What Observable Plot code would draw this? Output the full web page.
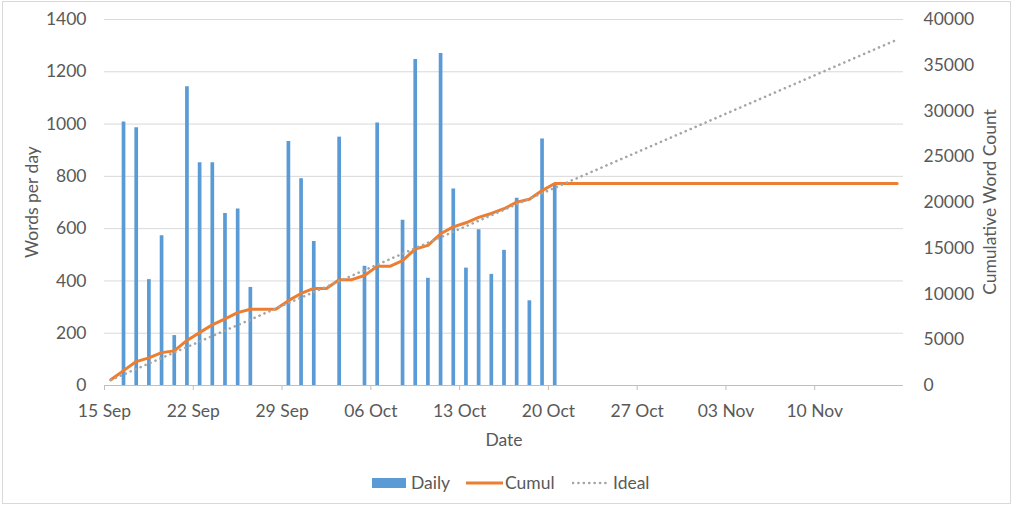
<!DOCTYPE html>
<html><head><meta charset="utf-8">
<script src="https://cdn.jsdelivr.net/npm/d3@7"></script>
<script src="https://cdn.jsdelivr.net/npm/@observablehq/plot@0.6"></script>
<style>
body{margin:0;background:#fff;font-family:Lato,sans-serif;color:#595959}
#wrap{position:relative;width:1019px;height:508px;overflow:hidden;background:#fff}
#frame{position:absolute;left:2px;top:1px;width:1009px;height:503px;border:1px solid #d9d9d9;box-sizing:border-box}
#chart{position:absolute;left:0;top:0}
.ttl{position:absolute;font-size:17.5px;white-space:nowrap;transform:translate(-50%,-50%);line-height:1}
.rot{transform:translate(-50%,-50%) rotate(-90deg)}
.leg{position:absolute;font-size:17.5px;line-height:1;white-space:nowrap}
</style></head>
<body>
<div id="wrap">
  <div id="frame"></div>
  <div id="chart"></div>
  <div class="ttl rot" style="left:32px;top:202px">Words per day</div>
  <div class="ttl rot" style="left:990px;top:202px">Cumulative Word Count</div>
  <div class="ttl" style="left:504px;top:440px">Date</div>
  <div id="legend"></div>
</div>
<script>
// ---- data ----
const dailyDates = ["2015-09-16","2015-09-17","2015-09-18","2015-09-19","2015-09-20","2015-09-21","2015-09-22","2015-09-23","2015-09-24","2015-09-25","2015-09-26",
  "2015-09-29","2015-09-30","2015-10-01","2015-10-03","2015-10-05","2015-10-06","2015-10-08","2015-10-09","2015-10-10","2015-10-11","2015-10-12",
  "2015-10-13","2015-10-14","2015-10-15","2015-10-16","2015-10-17","2015-10-18","2015-10-19","2015-10-20"];
const dailyWords = [1008,986,405,573,191,1143,852,852,658,675,375,
  933,791,551,950,456,1004,632,1247,410,1270,752,
  449,596,425,517,716,324,943,766];

const cumulStart = "2015-09-15";
const cumulWords = [620,1628,2614,3019,3592,3783,4926,5778,6630,7288,7963,8338,8338,8338,
  9271,10062,10613,10613,11563,11563,12019,13023,13023,13655,14902,15312,16582,17334,
  17783,18379,18804,19321,20037,20361,21304,22070,
  22070,22070,22070,22070,22070,22070,22070,22070,22070,22070,22070,22070,22070,22070,
  22070,22070,22070,22070,22070,22070,22070,22070,22070,22070,22070,22070,22070];

const idealDates = ["2015-09-15","2015-11-16"];
const idealWords = [600,37800];

const xTickDates = ["2015-09-15","2015-09-22","2015-09-29","2015-10-06","2015-10-13","2015-10-20","2015-10-27","2015-11-03","2015-11-10"];
const leftTicks = [0,200,400,600,800,1000,1200,1400];
const rightTicks = [0,5000,10000,15000,20000,25000,30000,35000,40000];
const seriesNames = ["Daily","Cumul","Ideal"];
const colors = {Daily:"#5B9BD5", Cumul:"#ED7D31", Ideal:"#A5A5A5"};

// ---- build ----
const parse = d3.utcParse("%Y-%m-%d");
const leftMax = 1400, rightMax = 40000, k = leftMax / rightMax;
const mid = d => d3.utcHour.offset(d, 12);

const daily = dailyDates.map((d, i) => ({date: parse(d), v: dailyWords[i]}));
const cumul = cumulWords.map((v, i) => ({date: d3.utcDay.offset(parse(cumulStart), i), v}));
const ideal = idealDates.map((d, i) => ({date: parse(d), v: idealWords[i]}));

const chart = Plot.plot({
  width: 1019, height: 460,
  marginLeft: 104, marginRight: 116, marginTop: 19, marginBottom: 75,
  style: {fontFamily: "Lato, sans-serif", fontSize: "17.5px", color: "#595959", background: "transparent"},
  x: {type: "utc", domain: [parse("2015-09-15"), parse("2015-11-17")]},
  y: {domain: [0, leftMax]},
  marks: [
    Plot.gridY(leftTicks.filter(t => t > 0), {stroke: "#d9d9d9", strokeOpacity: 1}),
    Plot.ruleX(daily, {x: d => mid(d.date), y1: 0, y2: "v", stroke: colors.Daily, strokeWidth: 3.7}),
    Plot.ruleY([0], {stroke: "#bfbfbf", strokeWidth: 1}),
    Plot.axisX(xTickDates.map(parse), {tickSize: 5, tickPadding: 14, stroke: "#bfbfbf", fill: "#595959", tickFormat: d3.utcFormat("%d %b"), label: null}),
    Plot.axisY(leftTicks, {anchor: "left", tickSize: 0, tickPadding: 18, label: null, fill: "#595959", tickFormat: t => String(t)}),
    Plot.axisY(rightTicks.map(t => t * k), {anchor: "right", tickSize: 0, tickPadding: 20, label: null, fill: "#595959", tickFormat: t => String(Math.round(t / k))}),
    Plot.line(cumul, {x: d => mid(d.date), y: d => d.v * k, stroke: colors.Cumul, strokeWidth: 3, strokeLinejoin: "round"}),
    Plot.line(ideal, {x: d => mid(d.date), y: d => d.v * k, stroke: colors.Ideal, strokeWidth: 2.6, strokeDasharray: "0.1 5.3", strokeLinecap: "round"})
  ]
});
document.getElementById("chart").appendChild(chart);

// ---- legend ----
const leg = document.getElementById("legend");
const items = [
  {name: seriesNames[0], sw: `<svg width="34" height="10" style="position:absolute;left:372px;top:478px"><rect width="34" height="10" fill="${colors.Daily}"/></svg>`, tx: 411},
  {name: seriesNames[1], sw: `<svg width="37" height="6" style="position:absolute;left:466px;top:480px"><line x1="0" x2="37" y1="3" y2="3" stroke="${colors.Cumul}" stroke-width="3"/></svg>`, tx: 505},
  {name: seriesNames[2], sw: `<svg width="37" height="6" style="position:absolute;left:572px;top:480px"><line x1="1" x2="36" y1="3" y2="3" stroke="${colors.Ideal}" stroke-width="2.6" stroke-dasharray="0.1 5.3" stroke-linecap="round"/></svg>`, tx: 613}
];
leg.innerHTML = items.map(it => it.sw + `<div class="leg" style="left:${it.tx}px;top:474px">${it.name}</div>`).join("");
</script>
</body></html>
